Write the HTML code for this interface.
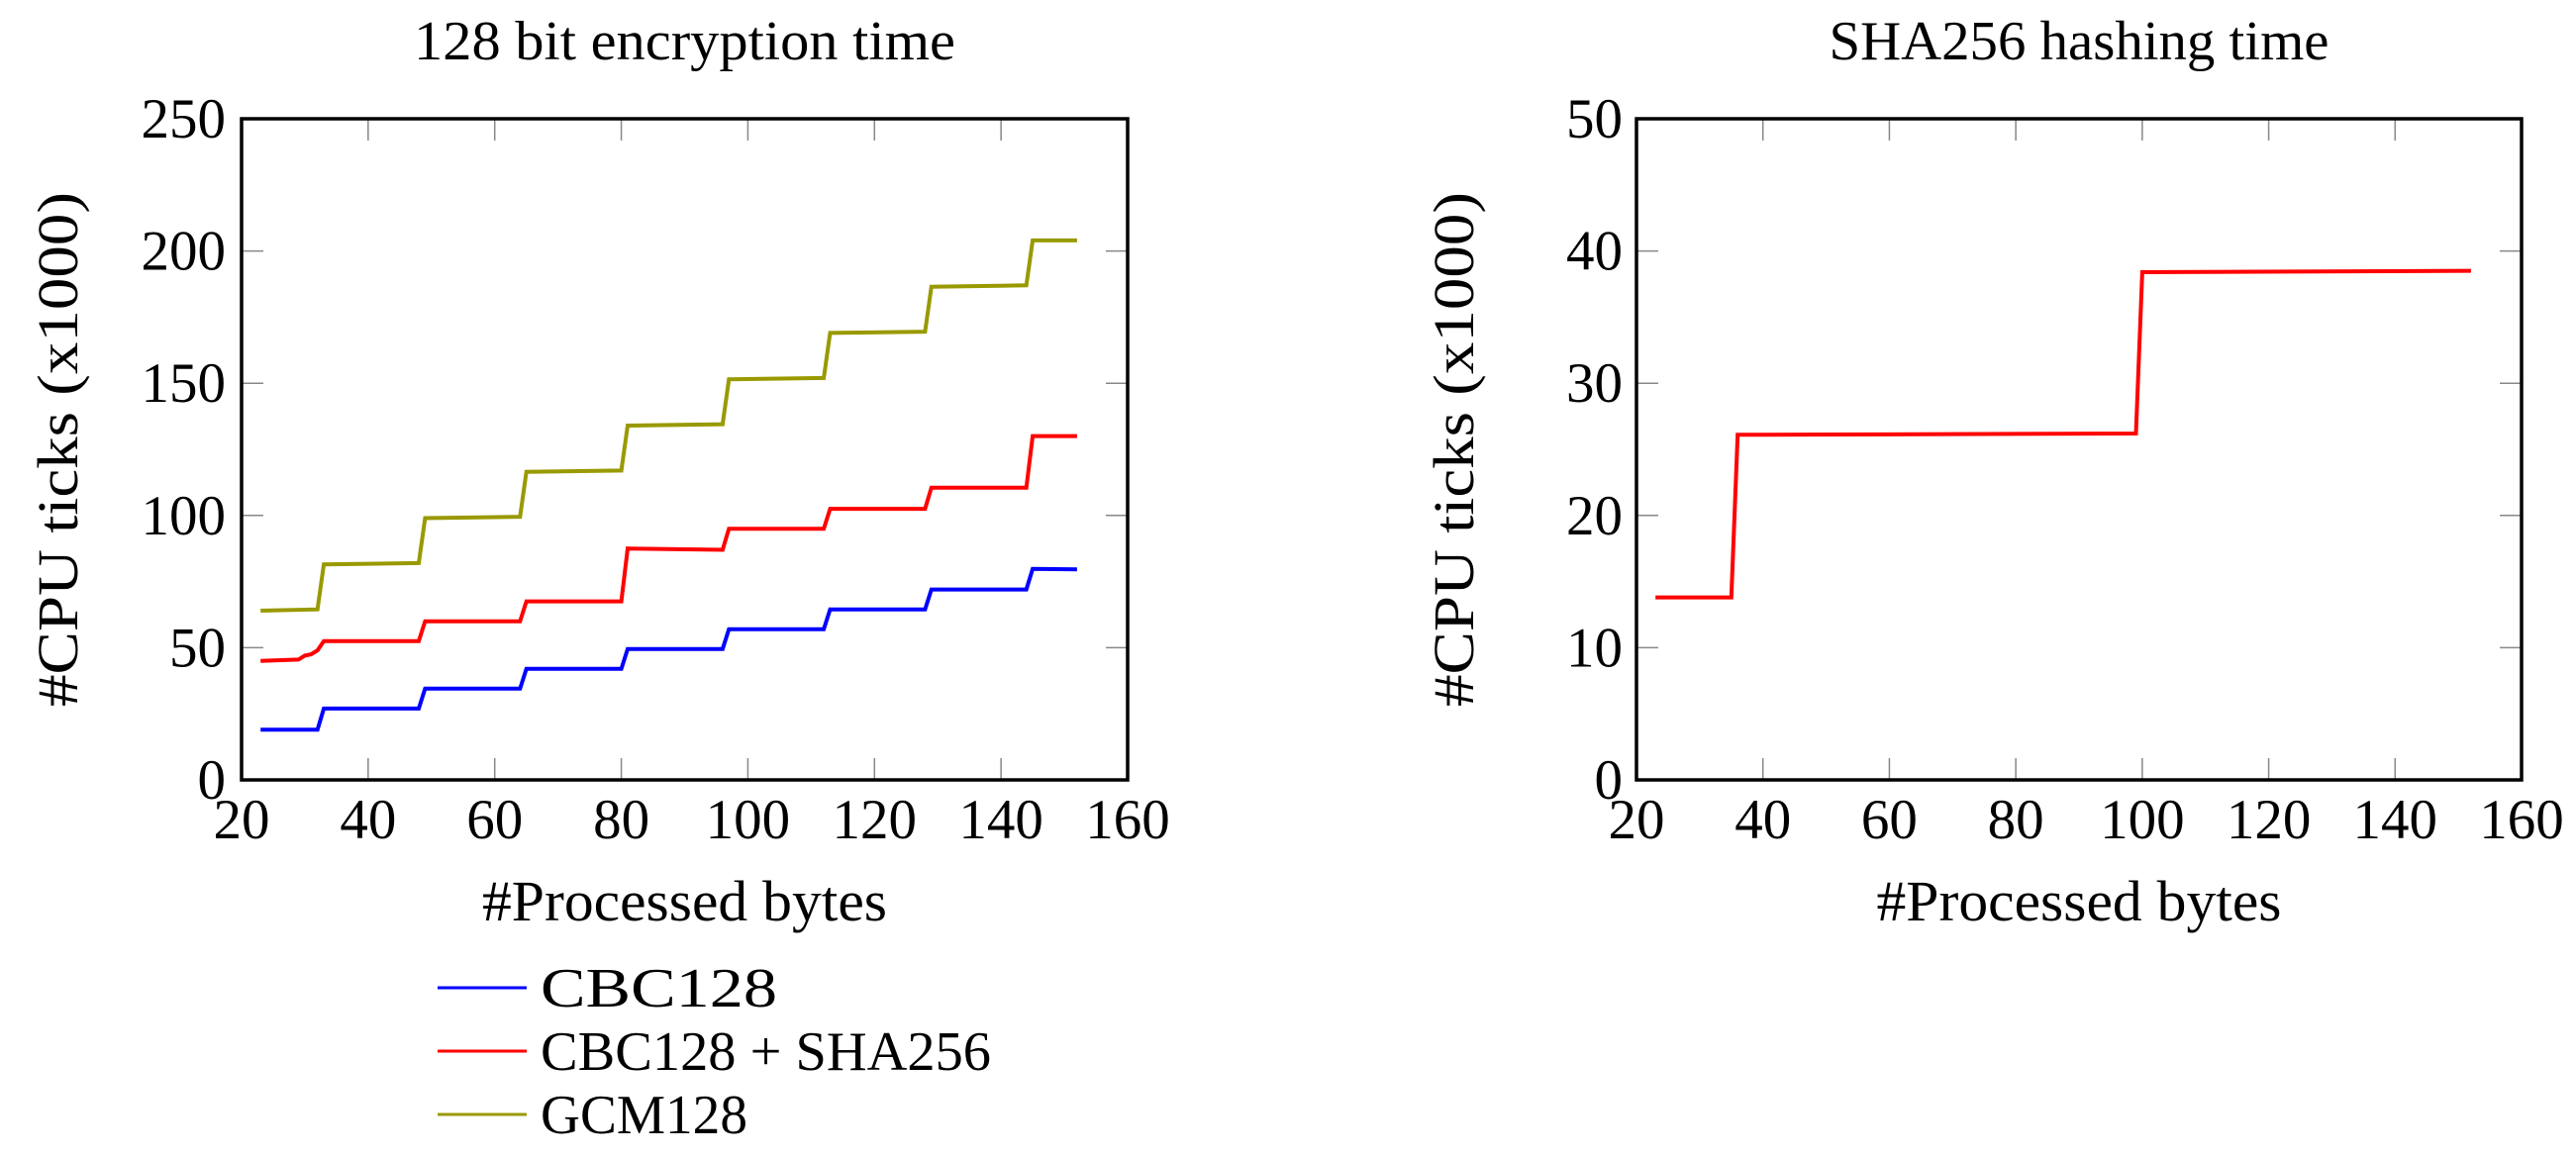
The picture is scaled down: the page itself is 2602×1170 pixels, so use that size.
<!DOCTYPE html>
<html><head><meta charset="utf-8"><style>
html,body{margin:0;padding:0;background:#fff;}
svg text{font-family:"Liberation Serif",serif;fill:#000;}
</style></head><body>
<svg width="2602" height="1165" viewBox="0 0 2602 1165" xmlns="http://www.w3.org/2000/svg">
<g id="left"></g>
<g id="right"></g>
<g id="legend"></g>
</svg>
<script>
const xBreaks = [23,32,33,48,49,64,65,80,81,96,97,112,113,128,129,144,145,152];
const cbcValues = [19,19,27,27,34.5,34.5,42,42,49.5,49.5,57,57,64.5,64.5,72,72,79.8,79.6];
const cbcShaX = [23,29,30,31,32,33,48,49,64,65,80,81,96,97,112,113,128,129,144,145,152];
const cbcShaValues = [45,45.5,47,47.5,49,52.5,52.5,60,60,67.5,67.5,87.5,87,95,95,102.5,102.5,110.5,110.5,130,130];
const gcmValues = [64,64.5,81.5,82,99,99.5,116.5,117,134,134.5,151.5,152,169,169.5,186.5,187,204,204];
const shaX = [23,35,36,99,100,152];
const shaValues = [13.8,13.8,26.1,26.2,38.4,38.5];
const xTicks = [20,40,60,80,100,120,140,160];
const leftYTicks = [0,50,100,150,200,250];
const rightYTicks = [0,10,20,30,40,50];
const legendLabels = ["CBC128","CBC128 + SHA256","GCM128"];
const legendColors = ["#0000ff","#ff0000","#999900"];
const legendWidths = [239,455,209];

const NS="http://www.w3.org/2000/svg";
function mk(parent,tag,attrs,text){const e=document.createElementNS(NS,tag);for(const k in attrs)e.setAttribute(k,attrs[k]);if(text!==undefined)e.textContent=text;parent.appendChild(e);return e;}

function drawPanel(g,x0,x1,title,titleW,yTicks,yMax,series,yLabelX,tickLabelX){
  const y0=788,y1=120;
  const sx=v=>x0+(v-20)/(160-20)*(x1-x0);
  const sy=v=>y0-(v/yMax)*(y0-y1);
  const t=mk(g,'text',{x:(x0+x1)/2,y:60,'font-size':56,'text-anchor':'middle',textLength:titleW,lengthAdjust:'spacingAndGlyphs'},title);
  
  
  xTicks.forEach(v=>{
    const l1=mk(g,'line',{x1:sx(v),x2:sx(v),y1:y0,y2:y0-22,stroke:'#888','stroke-width':1.5});
    
    
    const l2=mk(g,'line',{x1:sx(v),x2:sx(v),y1:y1,y2:y1+22,stroke:'#888','stroke-width':1.5});
    
    
    const tl=mk(g,'text',{x:sx(v),y:847,'font-size':57,'text-anchor':'middle'},String(v));
    
    
  });
  yTicks.forEach(v=>{
    const l1=mk(g,'line',{x1:x0,x2:x0+22,y1:sy(v),y2:sy(v),stroke:'#888','stroke-width':1.5});
    
    
    const l2=mk(g,'line',{x1:x1,x2:x1-22,y1:sy(v),y2:sy(v),stroke:'#888','stroke-width':1.5});
    
    
    const tl=mk(g,'text',{x:tickLabelX,y:sy(v)+19,'font-size':57,'text-anchor':'end'},String(v));
    
    
  });
  series.forEach(s=>{
    const pts=s.x.map((xv,i)=>sx(xv).toFixed(1)+','+sy(s.y[i]).toFixed(1)).join(' ');
    const p=mk(g,'polyline',{points:pts,fill:'none',stroke:s.color,'stroke-width':4,'stroke-linejoin':'miter'});
    
    
  });
  const fr=mk(g,'rect',{x:x0,y:y1,width:x1-x0,height:y0-y1,fill:'none',stroke:'#000','stroke-width':3.5});
  
  
  const xl=mk(g,'text',{x:(x0+x1)/2,y:930,'font-size':58,'text-anchor':'middle',textLength:409,lengthAdjust:'spacingAndGlyphs'},'#Processed bytes');
  
  
  const yl=mk(g,'text',{x:yLabelX,y:454,'font-size':58,'text-anchor':'middle',textLength:520,lengthAdjust:'spacingAndGlyphs',transform:`rotate(-90 ${yLabelX} 454)`},'#CPU ticks (x1000)');
  
  
}

drawPanel(document.getElementById('left'),244,1139,'128 bit encryption time',547,leftYTicks,250,[
  {name:'cbc128-line',x:xBreaks,y:cbcValues,color:legendColors[0]},
  {name:'cbc128-sha256-line',x:cbcShaX,y:cbcShaValues,color:legendColors[1]},
  {name:'gcm128-line',x:xBreaks,y:gcmValues,color:legendColors[2]}
],78,228);
drawPanel(document.getElementById('right'),1653,2547,'SHA256 hashing time',505,rightYTicks,50,[
  {name:'sha256-line',x:shaX,y:shaValues,color:'#ff0000'}
],1488,1639);

const lg=document.getElementById('legend');
legendLabels.forEach((lab,i)=>{
  const y=998+i*64;
  const l=mk(lg,'line',{x1:442,x2:532,y1:y,y2:y,stroke:legendColors[i],'stroke-width':3});
  
  
  const t=mk(lg,'text',{x:546,y:y+19,'font-size':56,textLength:legendWidths[i],lengthAdjust:'spacingAndGlyphs'},lab);
  
  
});
</script>
</body></html>
